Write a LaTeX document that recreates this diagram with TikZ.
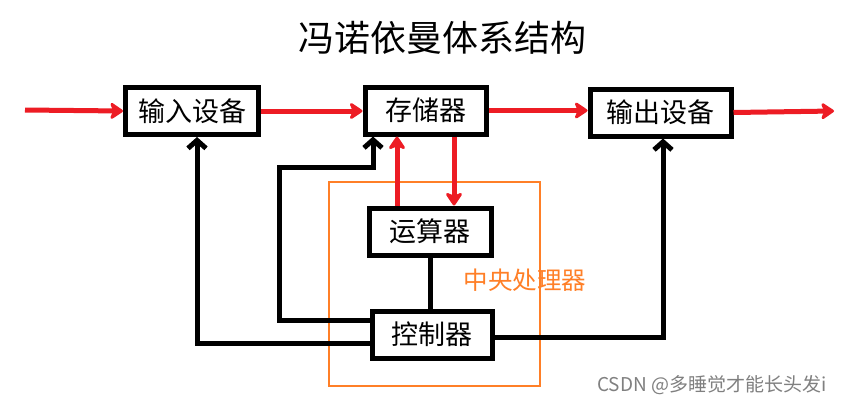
\documentclass[tikz,border=0pt]{standalone}
\usepackage{fontspec}
\setmainfont{Noto Sans CJK SC}
\newfontfamily\cjk{Noto Sans CJK SC}
\usetikzlibrary{arrows.meta}
\definecolor{myred}{RGB}{237,28,36}
\definecolor{myorange}{RGB}{255,127,39}
\begin{document}
\begin{tikzpicture}[x=1pt,y=-1pt,
  blk/.style={draw=black,line width=5pt,fill=white,inner sep=0pt,font=\cjk\fontsize{27}{27}\selectfont},
  redarr/.style={draw=myred,line width=5pt,-{Stealth[length=15pt,width=20pt,inset=4pt,round]}},
  blkarr/.style={draw=black,line width=5pt,-{Straight Barb[length=8pt,width=18pt,line width=5pt]}},
  blkline/.style={draw=black,line width=5pt}]
\useasboundingbox (0,0) rectangle (844,405);
\fill[white] (0,0) rectangle (844,405);
% title
\node[font=\cjk\fontsize{36}{36}\selectfont] (title) at (442,38) {冯诺依曼体系结构};
% CPU frame
\draw[myorange,line width=2.5pt] (329,182) rectangle (540,386);
\node[myorange,font=\cjk\fontsize{24.5}{24.5}\selectfont,anchor=west] (cpu) at (460,280) {中央处理器};
% boxes
\node[blk,minimum width=133pt,minimum height=47pt] (in) at (192,111) {输入设备};
\node[blk,minimum width=121pt,minimum height=47pt] (mem) at (425.5,110.5) {存储器};
\node[blk,minimum width=141pt,minimum height=47pt] (out) at (660.5,112.5) {输出设备};
\node[blk,minimum width=122pt,minimum height=47pt] (alu) at (430,231.5) {运算器};
\node[blk,minimum width=120pt,minimum height=47pt] (ctl) at (432,334.5) {控制器};
% free ends
\coordinate (src) at (25,110);
\coordinate (dst) at (834,111);
% red data flow
\draw[redarr] (src) -- (in.west);
\draw[redarr] (in.east) -- (mem.west |- in.east);
\draw[redarr] (mem.east) -- (out.west |- mem.east);
\draw[redarr] (out.east) -- (dst);
\draw[redarr] (alu.north -| 397,0) -- (mem.south -| 397,0);
\draw[redarr] (mem.south -| 454,0) -- (alu.north -| 454,0);
% black control
\draw[blkline] (alu.south) -- (ctl.north -| alu.south);
\draw[blkarr] (ctl.west |- 0,320) -- (279,320) -- (279,167) -- (373,167) -- (mem.south -| 373,0);
\draw[blkarr] (ctl.west |- 0,343) -- (197,343) -- (in.south -| 197,0);
\draw[blkarr] (ctl.east |- 0,337) -- (663,337) -- (out.south -| 663,0);
% watermark
\node[gray,font=\cjk\fontsize{19}{19}\selectfont,anchor=east] (wm) at (830,385) {CSDN @多睡觉才能长头发i};
\end{tikzpicture}
\end{document}
